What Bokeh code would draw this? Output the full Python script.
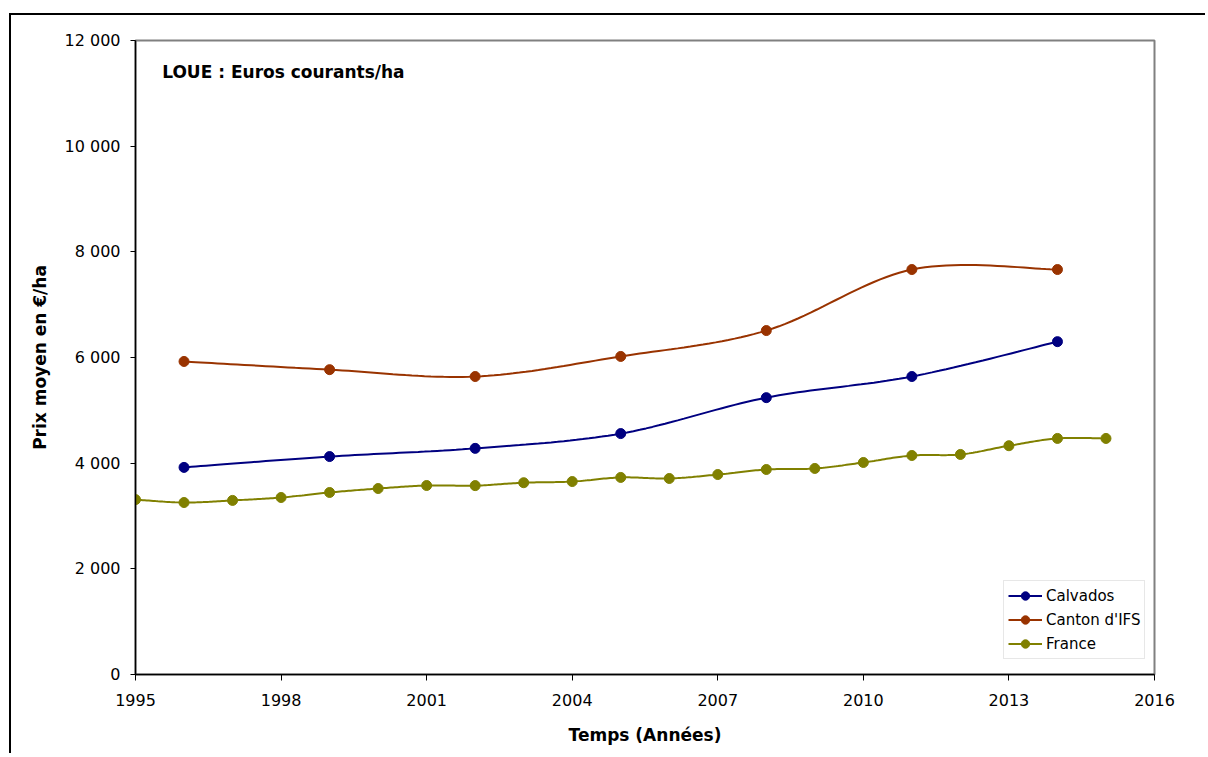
import numpy as np
from bokeh.plotting import figure
from bokeh.models import FixedTicker, Label, Legend, LegendItem
from bokeh.embed import file_html
from bokeh.resources import INLINE

# ---- data ----
calvados_years = [1996, 1999, 2002, 2005, 2008, 2011, 2014]
calvados_vals = [3920, 4125, 4280, 4560, 5240, 5640, 6300]

ifs_years = [1996, 1999, 2002, 2005, 2008, 2011, 2014]
ifs_vals = [5925, 5770, 5640, 6020, 6510, 7665, 7665]

france_years = list(range(1995, 2016))
france_vals = [3310, 3255, 3295, 3350, 3445, 3520, 3577, 3575, 3630, 3652,
               3730, 3710, 3785, 3880, 3900, 4013, 4145, 4165, 4330, 4468, 4468]

series_names = ["Calvados", "Canton d'IFS", "France"]
series_colors = ["#000080", "#993300", "#808000"]

x_ticks = [1995, 1998, 2001, 2004, 2007, 2010, 2013, 2016]
y_ticks = [0, 2000, 4000, 6000, 8000, 10000, 12000]
y_tick_labels = ["0", "2 000", "4 000", "6 000", "8 000", "10 000", "12 000"]

title_text = "LOUE : Euros courants/ha"
x_title = "Temps (Années)"
y_title = "Prix moyen en €/ha"

FONT = "DejaVu Sans"


def smooth(xs, ys, n=24):
    """Excel-like smoothed line through the points (cubic Bezier, Catmull-Rom tangents)."""
    xs = np.asarray(xs, float)
    ys = np.asarray(ys, float)
    px = np.concatenate([[xs[0]], xs, [xs[-1]]])
    py = np.concatenate([[ys[0]], ys, [ys[-1]]])
    ox, oy = [], []
    t = np.linspace(0, 1, n)
    for i in range(1, len(px) - 2):
        p0x, p0y = px[i], py[i]
        p3x, p3y = px[i + 1], py[i + 1]
        c1x = p0x + (px[i + 1] - px[i - 1]) / 6
        c1y = p0y + (py[i + 1] - py[i - 1]) / 6
        c2x = p3x - (px[i + 2] - px[i]) / 6
        c2y = p3y - (py[i + 2] - py[i]) / 6
        bx = (1 - t) ** 3 * p0x + 3 * (1 - t) ** 2 * t * c1x + 3 * (1 - t) * t ** 2 * c2x + t ** 3 * p3x
        by = (1 - t) ** 3 * p0y + 3 * (1 - t) ** 2 * t * c1y + 3 * (1 - t) * t ** 2 * c2y + t ** 3 * p3y
        if i > 1:
            bx, by = bx[1:], by[1:]
        ox.extend(bx)
        oy.extend(by)
    return ox, oy


p = figure(width=1196, height=740, output_backend="svg", toolbar_location=None,
           x_range=(1995, 2016), y_range=(0, 12000),
           min_border_left=124, min_border_top=25, min_border_right=53, min_border_bottom=81)
p.styles = {"border-left": "2px solid black", "border-top": "2px solid black",
            "margin-left": "9px", "margin-top": "13px"}

p.xgrid.visible = False
p.ygrid.visible = False
p.outline_line_color = "#808080"
p.outline_line_width = 2
p.background_fill_color = "white"
p.border_fill_color = "white"

for ax in (p.xaxis[0], p.yaxis[0]):
    ax.axis_line_color = "black"
    ax.axis_line_width = 1.5
    ax.major_tick_line_color = "black"
    ax.major_tick_in = 0
    ax.minor_tick_line_color = None
    ax.major_label_text_font = FONT
    ax.major_label_text_font_size = "16px"
    ax.major_label_text_color = "black"
    ax.axis_label_text_font = FONT
    ax.axis_label_text_font_size = "17px"
    ax.axis_label_text_font_style = "bold"
    ax.axis_label_text_color = "black"

p.xaxis[0].ticker = FixedTicker(ticks=x_ticks)
p.xaxis[0].major_tick_out = 6
p.xaxis[0].major_label_standoff = 13
p.xaxis[0].axis_label = x_title
p.xaxis[0].axis_label_standoff = 16

p.yaxis[0].ticker = FixedTicker(ticks=y_ticks)
p.yaxis[0].major_label_overrides = {t: l for t, l in zip(y_ticks, y_tick_labels)}
p.yaxis[0].major_tick_out = 5
p.yaxis[0].major_label_standoff = 10
p.yaxis[0].axis_label = y_title
p.yaxis[0].axis_label_standoff = 12

items = []
for name, color, xs, ys in zip(series_names, series_colors,
                               [calvados_years, ifs_years, france_years],
                               [calvados_vals, ifs_vals, france_vals]):
    sx, sy = smooth(xs, ys)
    r1 = p.line(sx, sy, line_color=color, line_width=2)
    r2 = p.scatter(xs, ys, size=10, fill_color=color, line_color=color)
    items.append(LegendItem(label=name, renderers=[r1, r2]))

legend = Legend(items=items, location=(868, 15))
legend.label_text_font = FONT
legend.label_text_font_size = "15px"
legend.label_text_color = "black"
legend.border_line_color = "#d0d0d0"
legend.border_line_width = 1.5
legend.background_fill_alpha = 1
legend.padding = 4
legend.spacing = 3
legend.glyph_width = 34
legend.glyph_height = 21
legend.label_height = 21
legend.label_standoff = 4
legend.margin = 0
p.add_layout(legend, "center")

p.add_layout(Label(x=1995.55, y=11395, text=title_text, text_font=FONT,
                   text_font_size="17px", text_font_style="bold",
                   text_baseline="middle", text_color="black"))

open("out.html", "w").write(file_html(p, INLINE))
